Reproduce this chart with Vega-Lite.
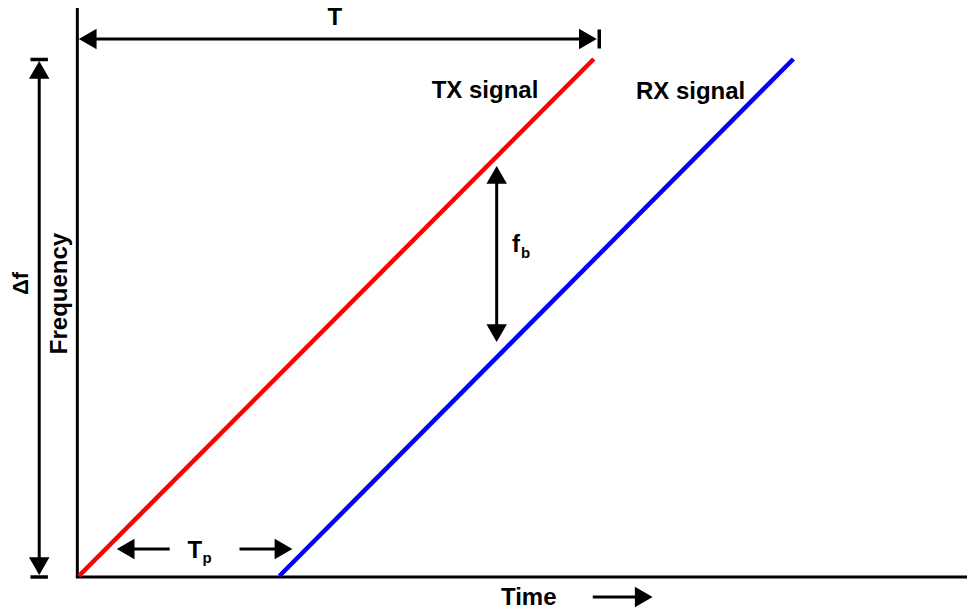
{
  "$schema": "https://vega.github.io/schema/vega-lite/v6.json",
  "autosize": {"type": "fit", "contains": "padding"},
  "width": 969,
  "height": 611,
  "padding": 0,
  "background": "white",
  "config": {"view": {"stroke": null}},
  "datasets": {
    "axes": [
      {"x": -0.05, "y": 0, "x2": -0.05, "y2": 56.9},
      {"x": -0.2, "y": 0, "x2": 89.1, "y2": 0}
    ],
    "signals": [
      {"series": "TX", "time": 0.1, "freq": 0.1},
      {"series": "TX", "time": 51.7, "freq": 51.8},
      {"series": "RX", "time": 20.2, "freq": 0.1},
      {"series": "RX", "time": 71.7, "freq": 51.8}
    ],
    "dims": [
      {"name": "T", "x": 1.2, "y": 53.8, "x2": 51.6, "y2": 53.8},
      {"name": "df", "x": -3.87, "y": 51.2, "x2": -3.87, "y2": 0.4},
      {"name": "fb", "x": 41.97, "y": 40.0, "x2": 41.97, "y2": 24.6},
      {"name": "Tp left", "x": 5.0, "y": 2.8, "x2": 9.2, "y2": 2.8},
      {"name": "Tp right", "x": 16.2, "y": 2.8, "x2": 20.4, "y2": 2.8},
      {"name": "Time", "x": 51.6, "y": -2.0, "x2": 56.5, "y2": -2.0}
    ],
    "bars": [
      {"x": 52.25, "y": 54.75, "x2": 52.25, "y2": 52.85},
      {"x": -4.75, "y": 51.75, "x2": -3.0, "y2": 51.75},
      {"x": -4.75, "y": 0, "x2": -3.0, "y2": 0}
    ],
    "heads": [
      {"x": 0.99, "y": 53.8, "dir": "left"},
      {"x": 51.11, "y": 53.8, "dir": "right"},
      {"x": -3.87, "y": 50.71, "dir": "up"},
      {"x": -3.87, "y": 1.09, "dir": "down"},
      {"x": 41.97, "y": 40.21, "dir": "up"},
      {"x": 41.97, "y": 24.39, "dir": "down"},
      {"x": 4.79, "y": 2.8, "dir": "left"},
      {"x": 20.61, "y": 2.8, "dir": "right"},
      {"x": 56.71, "y": -2.0, "dir": "right"}
    ],
    "labels": [
      {"text": "T", "x": 25.75, "y": 55.2},
      {"text": "TX signal", "x": 40.8, "y": 47.9},
      {"text": "RX signal", "x": 61.4, "y": 47.8}
    ],
    "leftlabels": [
      {"text": "f", "x": 43.5, "y": 32.5},
      {"text": "T", "x": 11.0, "y": 1.9},
      {"text": "Time", "x": 42.4, "y": -2.8}
    ],
    "subs": [
      {"text": "b", "x": 44.4, "y": 31.9},
      {"text": "p", "x": 12.5, "y": 1.45}
    ],
    "vlabels": [
      {"text": "Frequency", "x": -1.1, "y": 28.35, "size": "big"},
      {"text": "Δf", "x": -5.0, "y": 29.35, "size": "small"}
    ]
  },
  "encoding": {
    "x": {"field": "x", "type": "quantitative", "scale": {"domain": [-7.8, 89.1], "nice": false, "zero": false}, "axis": null},
    "y": {"field": "y", "type": "quantitative", "scale": {"domain": [-3.4, 57.7], "nice": false, "zero": false}, "axis": null}
  },
  "layer": [
    {
      "data": {"name": "axes"},
      "mark": {"type": "rule", "color": "black", "strokeWidth": 3},
      "encoding": {"x2": {"field": "x2"}, "y2": {"field": "y2"}}
    },
    {
      "data": {"name": "signals"},
      "mark": {"type": "line", "strokeWidth": 4.5},
      "encoding": {
        "x": {"field": "time", "type": "quantitative"},
        "y": {"field": "freq", "type": "quantitative"},
        "color": {"field": "series", "type": "nominal", "scale": {"domain": ["TX", "RX"], "range": ["#ff0000", "#0000ff"]}, "legend": null}
      }
    },
    {
      "data": {"name": "dims"},
      "mark": {"type": "rule", "color": "black", "strokeWidth": 3},
      "encoding": {"x2": {"field": "x2"}, "y2": {"field": "y2"}}
    },
    {
      "data": {"name": "bars"},
      "mark": {"type": "rule", "color": "black", "strokeWidth": 3.5},
      "encoding": {"x2": {"field": "x2"}, "y2": {"field": "y2"}}
    },
    {
      "data": {"name": "heads"},
      "mark": {"type": "point", "filled": true, "color": "black", "opacity": 1, "size": 420},
      "encoding": {
        "shape": {"field": "dir", "type": "nominal", "scale": {"domain": ["left", "right", "up", "down"], "range": ["triangle-left", "triangle-right", "triangle-up", "triangle-down"]}, "legend": null}
      }
    },
    {
      "data": {"name": "labels"},
      "mark": {"type": "text", "font": "Liberation Sans", "fontWeight": "bold", "fontSize": 24, "align": "center", "baseline": "alphabetic", "color": "black"},
      "encoding": {"text": {"field": "text"}}
    },
    {
      "data": {"name": "leftlabels"},
      "mark": {"type": "text", "font": "Liberation Sans", "fontWeight": "bold", "fontSize": 24, "align": "left", "baseline": "alphabetic", "color": "black"},
      "encoding": {"text": {"field": "text"}}
    },
    {
      "data": {"name": "subs"},
      "mark": {"type": "text", "font": "Liberation Sans", "fontWeight": "bold", "fontSize": 15, "align": "left", "baseline": "alphabetic", "color": "black"},
      "encoding": {"text": {"field": "text"}}
    },
    {
      "data": {"name": "vlabels"},
      "mark": {"type": "text", "font": "Liberation Sans", "fontWeight": "bold", "align": "center", "baseline": "alphabetic", "angle": 270, "color": "black"},
      "encoding": {
        "text": {"field": "text"},
        "size": {"field": "size", "type": "nominal", "scale": {"domain": ["big", "small"], "range": [24, 22]}, "legend": null}
      }
    }
  ]
}
